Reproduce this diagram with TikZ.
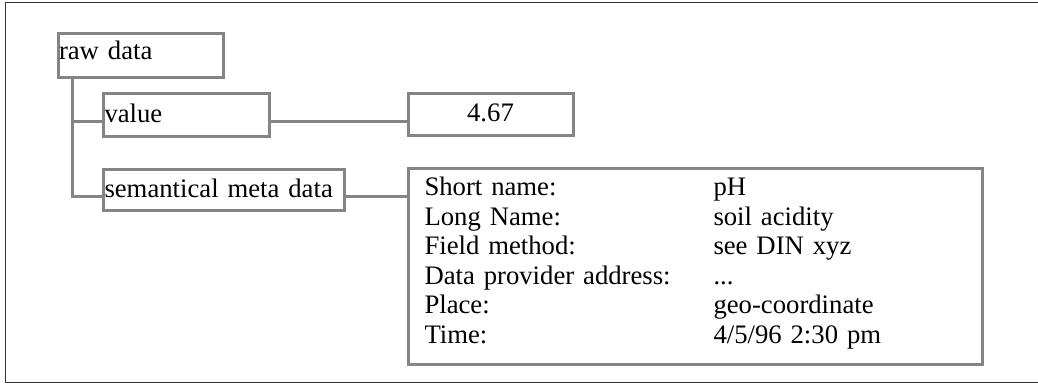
\documentclass[tikz,border=0pt]{standalone}
\usepackage{fontspec}
\setmainfont{Liberation Serif}
\usetikzlibrary{calc}
\definecolor{boxgray}{HTML}{858585}
\definecolor{framegray}{HTML}{333333}
\tikzset{
  box/.style={draw=boxgray, line width=3pt, inner ysep=0pt, anchor=north west,
              align=left, font=\fontsize{26.7pt}{29.6pt}\selectfont},
  link/.style={draw=boxgray, line width=3pt},
  frame/.style={draw=framegray, line width=1.6pt}
}
\begin{document}
\begin{tikzpicture}[x=1pt, y=-1pt]
  \useasboundingbox (0,0) rectangle (1038,384);
  % outer frame, open towards the right edge
  \draw[frame] (5.5,2.5) rectangle (1050,382.5);

  % tree nodes
  \node[box, text width=163pt, inner xsep=1pt, text height=26.5pt, text depth=17.5pt]
    (raw) at (56.5,31.5) {raw data};
  \node[box, text width=163pt, inner xsep=1.5pt, text height=29.5pt, text depth=13.5pt]
    (value) at (101.5,91.5) {value};
  \node[box, text width=238pt, inner xsep=1.5pt, text height=28.5pt, text depth=13pt]
    (sem) at (101.5,167.5) {semantical meta data};
  \node[box, align=center, text width=165pt, inner xsep=0pt, text height=28pt, text depth=14pt]
    (num) at (406.5,92) {4.67};
  \node[box, text width=541pt, inner xsep=16.5pt, text height=27.5pt, text depth=168.5pt]
    (meta) at (406.5,166.5) {%
    \begin{tabular}[t]{@{}p{289pt}@{}l@{}}
      Short name: & pH\\
      Long Name: & soil acidity\\
      Field method: & see DIN xyz\\
      Data provider address: & ...\\
      Place: & geo-coordinate\\
      Time: & 4/5/96 2:30 pm
    \end{tabular}};

  % connection points
  \coordinate (trunk) at (72,75.5);
  \coordinate (vIn) at (101.5,121);
  \coordinate (sIn) at (101.5,196);

  % connectors
  \draw[link] (trunk) |- (vIn);
  \draw[link] (trunk) |- (sIn);
  \draw[link] (value.east |- vIn) -- (num.west |- vIn);
  \draw[link] (sem.east |- sIn) -- (meta.west |- sIn);
\end{tikzpicture}
\end{document}
